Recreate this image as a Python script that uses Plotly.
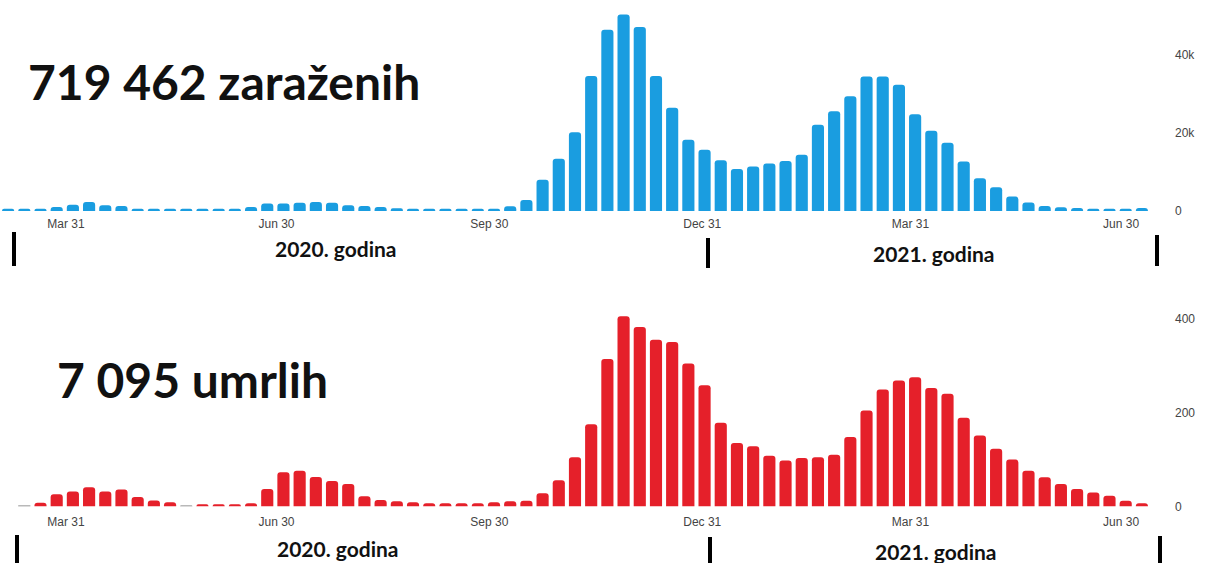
import datetime as dt
import plotly.graph_objects as go

# ---------------- data ----------------
# weekly bars, week index relative to the first week of 2021
week0 = dt.date(2021, 1, 1)

cases_first_week = -43
cases = [
    600, 600, 600, 1000, 1600, 2300, 1500, 1300,
    600, 600, 600, 600, 600, 600, 600,
    1000, 1900, 1900, 2100, 2300, 2100, 1500, 1300, 1000,
    700, 600, 600, 600, 600, 600, 600,
    1200, 2800, 8000, 13400, 20200, 34600, 46500, 50400, 47200, 34600,
    26500, 18300, 15700, 13000, 10800, 11400, 12200, 12800, 14400, 22100,
    25600, 29400, 34500, 34500, 32400, 24800, 20600, 17500, 12700, 8400,
    6100, 3700, 2200, 1300, 950, 800, 600, 600, 600, 800,
]

deaths_first_week = -42
deaths = [
    2, 8, 26, 32, 41, 32, 36, 20, 13, 9,
    3, 5, 5, 5, 7,
    37, 73, 76, 63, 54, 48, 22, 14, 11,
    9, 7, 7, 7, 7, 9, 11, 12,
    28, 56, 105, 175, 314, 405, 382, 355, 350, 304,
    258, 178, 135, 128, 108, 98, 103, 105, 110, 148,
    204, 249, 268, 275, 252, 240, 189, 151, 123, 100,
    76, 62, 48, 37, 30, 23, 12, 7,
]

tick_dates = ["2020-03-31", "2020-06-30", "2020-09-30",
              "2020-12-31", "2021-03-31", "2021-06-30"]
tick_text = ["Mar 31", "Jun 30", "Sep 30", "Dec 31", "Mar 31", "Jun 30"]

cases_ticks = [0, 20000, 40000]
cases_tick_text = ["0", "20k", "40k"]
deaths_ticks = [0, 200, 400]
deaths_tick_text = ["0", "200", "400"]

title_cases = "719 462 zaraženih"
title_deaths = "7 095 umrlih"
year_labels = ["2020. godina", "2021. godina"]

# ---------------- helpers ----------------
def week_dates(first, n):
    return [(week0 + dt.timedelta(days=7 * (first + i))).isoformat() for i in range(n)]

W, H = 1206, 563
ML, MR = 0, 50
PW = W - ML - MR

def pxx(x):
    return (x - ML) / PW

def pyy(y):
    return 1 - y / H

BLUE = "#1a9de0"
RED = "#e5202a"
GRAY = "#b9b9b9"

x_cases = week_dates(cases_first_week, len(cases))
x_deaths = week_dates(deaths_first_week, len(deaths))
death_colors = [GRAY if v <= 3 else RED for v in deaths]

fig = go.Figure()
fig.add_trace(go.Bar(x=x_cases, y=cases, marker=dict(color=BLUE, line=dict(width=0)),
                     xaxis="x", yaxis="y", showlegend=False))
fig.add_trace(go.Bar(x=x_deaths, y=deaths, marker=dict(color=death_colors, line=dict(width=0)),
                     xaxis="x2", yaxis="y2", showlegend=False))

xrange = ["2020-03-02 12:00", "2021-07-15 02:30"]
tickfont = dict(family="Liberation Sans, Arial, sans-serif", size=12, color="#444444")

common_x = dict(type="date", range=xrange, tickmode="array", tickvals=tick_dates,
                ticktext=tick_text, showgrid=False, zeroline=False, showline=False,
                ticks="", tickfont=tickfont, fixedrange=True, automargin=False)
common_y = dict(side="right", showgrid=False, zeroline=False, showline=False,
                ticks="", tickfont=tickfont, ticklabelstandoff=18, fixedrange=True,
                automargin=False)

top_base, top_top = 211, 5
bot_base, bot_top = 506.5, 300

fig.update_layout(
    width=W, height=H,
    margin=dict(l=ML, r=MR, t=0, b=0, autoexpand=False),
    paper_bgcolor="white", plot_bgcolor="white",
    bargap=0.25, barcornerradius=3,
    xaxis=dict(common_x, domain=[0, 1], anchor="y", ticklabelstandoff=4),
    yaxis=dict(common_y, domain=[pyy(top_base), pyy(top_top)], anchor="x",
               range=[0, (top_base - top_top) / 3.9 * 1000],
               tickvals=cases_ticks, ticktext=cases_tick_text),
    xaxis2=dict(common_x, domain=[0, 1], anchor="y2", ticklabelstandoff=6),
    yaxis2=dict(common_y, domain=[pyy(bot_base), pyy(bot_top)], anchor="x2",
                range=[0, (bot_base - bot_top) / 0.47],
                tickvals=deaths_ticks, ticktext=deaths_tick_text),
)

big = dict(family="Lato, sans-serif", size=48, color="#111111", weight=700)
yearf = dict(family="Lato, sans-serif", size=21, color="#111111", weight=700)

ann = [
    dict(text=title_cases, x=pxx(224), y=pyy(81), font=big),
    dict(text=title_deaths, x=pxx(192), y=pyy(380), font=big),
    dict(text=year_labels[0], x=pxx(336), y=pyy(248), font=yearf),
    dict(text=year_labels[1], x=pxx(934), y=pyy(253), font=yearf),
    dict(text=year_labels[0], x=pxx(338), y=pyy(548), font=yearf),
    dict(text=year_labels[1], x=pxx(936), y=pyy(551), font=yearf),
]
for a in ann:
    fig.add_annotation(xref="paper", yref="paper", showarrow=False,
                       xanchor="center", yanchor="middle", **a)

markers = [(14, 232, 266), (708, 238, 268), (1157, 235, 266),
           (17, 535, 563), (710, 537, 563), (1160, 536, 563)]
for x, y0, y1 in markers:
    fig.add_shape(type="line", xref="paper", yref="paper",
                  x0=pxx(x), x1=pxx(x), y0=pyy(y0), y1=pyy(y1),
                  line=dict(color="black", width=4))

page_css = (
    "var s=document.documentElement.style;s.margin='0';s.padding='0';s.overflow='hidden';"
    "var b=document.body.style;b.margin='0';b.padding='0';b.overflow='hidden';"
)
fig.write_html("out.html", config={"displayModeBar": False}, post_script=page_css)
